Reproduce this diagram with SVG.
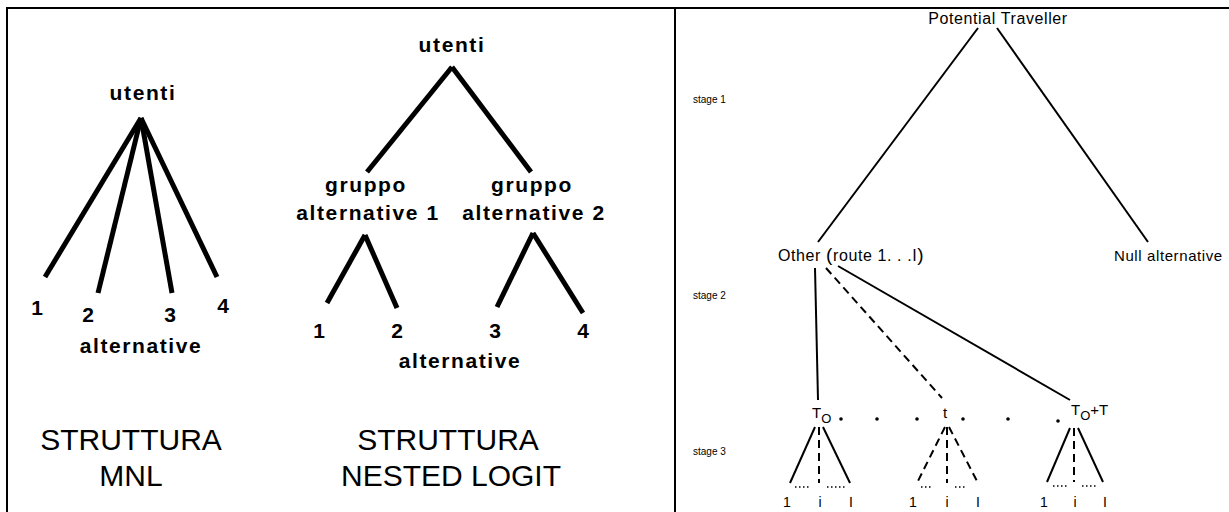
<svg xmlns="http://www.w3.org/2000/svg" width="1229" height="512" viewBox="0 0 1229 512">
<style>
.bd{stroke:#000;stroke-width:2;fill:none}
.thick{stroke:#000;stroke-width:5;fill:none}
.thin{stroke:#000;stroke-width:2;fill:none}
.dash{stroke:#000;stroke-width:2;fill:none;stroke-dasharray:8 5}
.dot{stroke:#000;stroke-width:1.5;fill:none;stroke-dasharray:1.5 2.5}
.lb{font-family:"Liberation Sans",Arial,sans-serif;font-weight:bold;font-size:21px;letter-spacing:1.6px;text-anchor:middle;fill:#000}
.ttl{font-family:"Liberation Sans",Arial,sans-serif;font-size:30px;text-anchor:middle;fill:#000}
.rt{font-family:"Liberation Sans",Arial,sans-serif;font-size:15px;letter-spacing:0.6px;fill:#000}
.rtb{font-family:"Liberation Sans",Arial,sans-serif;font-size:16px;letter-spacing:0.6px;fill:#000}
.st{font-family:"Liberation Sans",Arial,sans-serif;font-size:10px;fill:#000}
.s3{font-family:"Liberation Sans",Arial,sans-serif;font-size:15px;fill:#000}
.lf{font-family:"Liberation Sans",Arial,sans-serif;font-size:14px;text-anchor:middle;fill:#000}
</style>
<rect width="1229" height="512" fill="#fff"/>
<g id="frame">
<line class="bd" x1="7" y1="8" x2="1229" y2="8"/>
<line class="bd" x1="7" y1="7" x2="7" y2="512"/>
<line class="bd" x1="675" y1="7" x2="675" y2="512"/>
</g>
<g id="connectors">
<line class="thick" x1="141" y1="118" x2="45" y2="277"/>
<line class="thick" x1="141" y1="118" x2="98" y2="293"/>
<line class="thick" x1="141" y1="118" x2="172" y2="293"/>
<line class="thick" x1="141" y1="118" x2="217" y2="277"/>
<line class="thick" x1="452" y1="67" x2="367" y2="172"/>
<line class="thick" x1="452" y1="67" x2="531" y2="172"/>
<line class="thick" x1="365" y1="235" x2="327" y2="303"/>
<line class="thick" x1="365" y1="235" x2="397" y2="308"/>
<line class="thick" x1="533" y1="233" x2="497" y2="307"/>
<line class="thick" x1="533" y1="233" x2="583" y2="313"/>
<line class="thin" x1="978" y1="28" x2="818" y2="242"/>
<line class="thin" x1="997" y1="28" x2="1148" y2="242"/>
<line class="thin" x1="815" y1="268" x2="818" y2="400"/>
<line class="dash" x1="826" y1="268" x2="942" y2="398"/>
<line class="thin" x1="838" y1="266" x2="1070" y2="400"/>
<line class="thin" x1="815" y1="427" x2="790" y2="483"/>
<line class="dash" x1="819" y1="427" x2="819" y2="483"/>
<line class="thin" x1="823" y1="427" x2="850" y2="483"/>
<line class="dash" x1="945" y1="427" x2="917" y2="483"/>
<line class="dash" x1="947" y1="427" x2="947" y2="483"/>
<line class="dash" x1="949" y1="427" x2="978" y2="483"/>
<line class="thin" x1="1070" y1="428" x2="1047" y2="482"/>
<line class="dash" x1="1074" y1="428" x2="1074" y2="482"/>
<line class="thin" x1="1078" y1="428" x2="1103" y2="482"/>
<line class="dot" x1="795" y1="487" x2="811" y2="487"/>
<line class="dot" x1="827" y1="487" x2="847" y2="487"/>
<line class="dot" x1="921" y1="487" x2="931" y2="487"/>
<line class="dot" x1="955" y1="487" x2="967" y2="487"/>
<line class="dot" x1="1053" y1="486" x2="1067" y2="486"/>
<line class="dot" x1="1082" y1="486" x2="1096" y2="486"/>
</g>
<g id="mnl-root"><text class="lb" x="143" y="100">utenti</text></g>
<g id="mnl-alt-1"><text class="lb" x="38" y="315">1</text></g>
<g id="mnl-alt-2"><text class="lb" x="89" y="322">2</text></g>
<g id="mnl-alt-3"><text class="lb" x="171" y="322">3</text></g>
<g id="mnl-alt-4"><text class="lb" x="224" y="313">4</text></g>
<g id="mnl-label"><text class="lb" x="141" y="353">alternative</text></g>
<g id="mnl-title"><text class="ttl" x="131" y="450">STRUTTURA</text><text class="ttl" x="131" y="486">MNL</text></g>
<g id="nl-root"><text class="lb" x="452" y="52">utenti</text></g>
<g id="nl-group-1"><text class="lb" x="366" y="192">gruppo</text><text class="lb" x="368" y="220">alternative 1</text></g>
<g id="nl-group-2"><text class="lb" x="532" y="192">gruppo</text><text class="lb" x="534" y="220">alternative 2</text></g>
<g id="nl-alt-1"><text class="lb" x="320" y="338">1</text></g>
<g id="nl-alt-2"><text class="lb" x="398" y="338">2</text></g>
<g id="nl-alt-3"><text class="lb" x="496" y="338">3</text></g>
<g id="nl-alt-4"><text class="lb" x="584" y="338">4</text></g>
<g id="nl-label"><text class="lb" x="460" y="368">alternative</text></g>
<g id="nl-title"><text class="ttl" x="448" y="450">STRUTTURA</text><text class="ttl" x="451" y="486">NESTED LOGIT</text></g>
<g id="stages">
<text class="st" x="693" y="103">stage 1</text>
<text class="st" x="693" y="299">stage 2</text>
<text class="st" x="693" y="455">stage 3</text>
</g>
<g id="potential-traveller"><text class="rtb" x="998" y="24" text-anchor="middle">Potential  Traveller</text></g>
<g id="other"><text class="rtb" x="778" y="261">Other  <tspan style="font-size:19px">(</tspan>route 1. . .I<tspan style="font-size:19px">)</tspan></text></g>
<g id="null-alternative"><text class="rt" x="1114" y="261">Null alternative</text></g>
<g id="t0"><text class="s3" x="812" y="418">T<tspan style="font-size:13px" dy="5">O</tspan></text></g>
<g id="t"><text class="s3" x="945" y="418" text-anchor="middle">t</text></g>
<g id="t0T"><text class="s3" x="1071" y="415">T<tspan style="font-size:13px" dy="5">O</tspan><tspan dy="-5">+T</tspan></text></g>
<g id="dots">
<circle cx="841" cy="419" r="1.8"/><circle cx="877" cy="419" r="1.8"/><circle cx="917" cy="419" r="1.8"/>
<circle cx="963" cy="419" r="1.8"/><circle cx="1008" cy="419" r="1.8"/><circle cx="1058" cy="421" r="1.8"/>
</g>
<g id="leaves-t0"><text class="lf" x="787" y="507">1</text><text class="lf" x="820" y="507">i</text><text class="lf" x="851" y="507">I</text></g>
<g id="leaves-t"><text class="lf" x="913" y="507">1</text><text class="lf" x="947" y="507">i</text><text class="lf" x="978" y="507">I</text></g>
<g id="leaves-t0T"><text class="lf" x="1044" y="507">1</text><text class="lf" x="1075" y="507">i</text><text class="lf" x="1105" y="507">I</text></g>
</svg>
